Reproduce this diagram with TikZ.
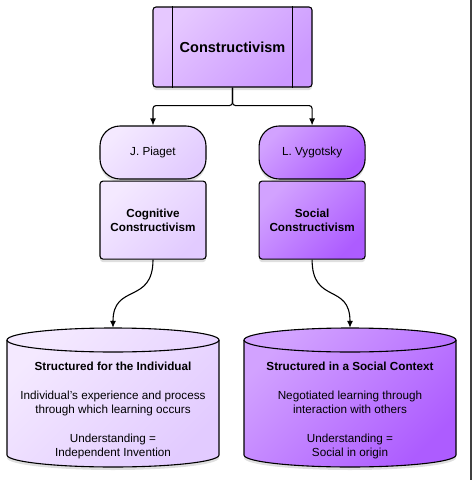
\documentclass[tikz,border=0pt]{standalone}
\usepackage{fontspec}
\setmainfont{Liberation Sans}
\usetikzlibrary{
    arrows.meta,
    positioning,
    calc,
    shadows
}
\definecolor{toplight}{HTML}{E6C8FF}
\definecolor{topdark}{HTML}{CB98FF}
\definecolor{palelight}{HTML}{F4E9FF}
\definecolor{paledark}{HTML}{E2CBFF}
\definecolor{deeplight}{HTML}{D2A2FF}
\definecolor{deepdark}{HTML}{AD5CFF}

\tikzstyle{arrow} = [
    -{Latex[length=7pt,width=6pt]},
    line width=1.1pt,
    draw=black
]
\tikzstyle{softshadow} = [
    drop shadow={opacity=0.25, shadow xshift=0pt, shadow yshift=-3pt}
]
\tikzstyle{pale} = [
    top color=palelight,
    bottom color=paledark,
    shading angle=45
]
\tikzstyle{deep} = [
    top color=deeplight,
    bottom color=deepdark,
    shading angle=45
]
\tikzstyle{namebox} = [
    rectangle,
    rounded corners=20pt,
    draw=black,
    line width=1.1pt,
    minimum width=106pt,
    minimum height=53pt,
    font=\fontsize{11.7}{14}\selectfont,
    softshadow
]
\tikzstyle{theorybox} = [
    rectangle,
    rounded corners=3pt,
    draw=black,
    line width=1.1pt,
    minimum width=106pt,
    minimum height=78pt,
    align=center,
    font=\fontsize{11.7}{14}\selectfont\bfseries,
    softshadow
]
\tikzstyle{store} = [
    rectangle,
    minimum width=212pt,
    minimum height=139pt,
    inner sep=0pt
]
\tikzstyle{storeline} = [
    draw=black,
    line width=1.1pt
]
\tikzstyle{storetext} = [
    align=center,
    font=\fontsize{11.7}{14}\selectfont
]

\begin{document}
\begin{tikzpicture}[x=1pt, y=-1pt]
    \useasboundingbox (0,0) rectangle (472,480);

    % Root concept
    \node[rectangle, rounded corners=3pt, draw=black, line width=1.1pt,
          minimum width=159pt, minimum height=80pt,
          top color=toplight, bottom color=topdark, shading angle=45,
          font=\fontsize{14.5}{17}\selectfont\bfseries, softshadow]
          (constr) at (232.5,47) {Constructivism};
    \draw[line width=1.1pt] ($(constr.north west)+(20,0)$) -- ($(constr.south west)+(20,0)$);
    \draw[line width=1.1pt] ($(constr.north east)+(-20,0)$) -- ($(constr.south east)+(-20,0)$);

    % Theorists
    \node[namebox, pale] (piaget) at (153,152.5) {J. Piaget};
    \node[namebox, deep, right=52pt of piaget] (vygotsky) {L. Vygotsky};

    % Branches
    \node[theorybox, pale, below=1pt of piaget] (cog) {Cognitive\\Constructivism};
    \node[theorybox, deep, below=1pt of vygotsky] (soc) {Social\\Constructivism};

    % Learning structures (cylinders)
    \node[store] (indiv) at (113,397.5) {};
    \draw[storeline, pale, softshadow] (7,340) -- (7,455)
        arc[start angle=180, end angle=0, x radius=106, y radius=12]
        -- (219,340)
        arc[start angle=0, end angle=-180, x radius=106, y radius=12];
    \draw[storeline] (7,340) arc[start angle=180, end angle=0, x radius=106, y radius=12];
    \node[storetext] (indivtxt) at (indiv.center) [yshift=-12.5pt]
        {\textbf{Structured for the Individual}\\[15pt]
         Individual's experience and process\\
         through which learning occurs\\[15pt]
         Understanding =\\
         Independent Invention};

    \node[store] (social) at (350,397.5) {};
    \draw[storeline, deep, softshadow] (244,340) -- (244,455)
        arc[start angle=180, end angle=0, x radius=106, y radius=12]
        -- (456,340)
        arc[start angle=0, end angle=-180, x radius=106, y radius=12];
    \draw[storeline] (244,340) arc[start angle=180, end angle=0, x radius=106, y radius=12];
    \node[storetext] (socialtxt) at (social.center) [yshift=-12.5pt]
        {\textbf{Structured in a Social Context}\\[15pt]
         Negotiated learning through\\
         interaction with others\\[15pt]
         Understanding =\\
         Social in origin};

    % Connectors
    \draw[arrow, rounded corners=3pt] (constr.south) -- ++(0,18) -| (piaget.north);
    \draw[arrow, rounded corners=3pt] (constr.south) -- ++(0,18) -| (vygotsky.north);
    \draw[arrow] (cog.south) .. controls +(0,45) and +(0,-45) .. (indiv.north);
    \draw[arrow] (soc.south) .. controls +(0,45) and +(0,-45) .. (social.north);

    % Frame edge
    \draw[line width=1.6pt, black!75] (471.2,0) -- (471.2,480);
\end{tikzpicture}
\end{document}
